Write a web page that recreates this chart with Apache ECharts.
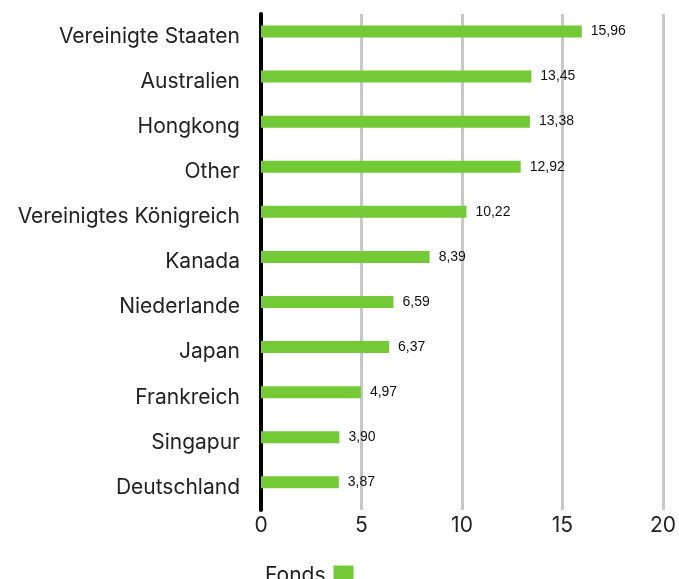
<!DOCTYPE html>
<html>
<head>
<meta charset="utf-8">
<script src="https://cdn.jsdelivr.net/npm/echarts@6/dist/echarts.min.js"></script>
<style>
  html, body { margin: 0; padding: 0; background: #fff; }
  #chart { width: 679px; height: 579px; }
</style>
</head>
<body>
<div id="chart"></div>
<script>
// Country allocation of the fund, in percent
const countries = [
  'Vereinigte Staaten', 'Australien', 'Hongkong', 'Other',
  'Vereinigtes Königreich', 'Kanada', 'Niederlande', 'Japan',
  'Frankreich', 'Singapur', 'Deutschland'
];
const fondsValues = [15.96, 13.45, 13.38, 12.92, 10.22, 8.39, 6.59, 6.37, 4.97, 3.90, 3.87];
const seriesName = 'Fonds';
const xTicks = { min: 0, max: 20, interval: 5 };

const chart = echarts.init(document.getElementById('chart'));
chart.setOption({
  animation: false,
  grid: { left: 261, right: 14, top: 14, bottom: 69, containLabel: false },
  legend: {
    data: [seriesName],
    left: 260,
    top: 560,
    align: 'right',
    itemWidth: 20,
    itemHeight: 20,
    icon: 'rect',
    textStyle: {
      fontFamily: 'Inter', fontSize: 21, color: '#222',
      verticalAlign: 'top', lineHeight: 12, padding: [0, 3, 0, 0]
    }
  },
  xAxis: {
    type: 'value',
    min: xTicks.min,
    max: xTicks.max,
    interval: xTicks.interval,
    axisLine: { show: false },
    axisTick: { show: false },
    axisLabel: { fontFamily: 'Inter', fontSize: 21, color: '#222', margin: 5 },
    splitLine: { lineStyle: { color: '#c8c8c8', width: 3 } }
  },
  yAxis: {
    type: 'category',
    data: countries,
    inverse: true,
    axisLine: { show: true, lineStyle: { color: '#000', width: 4 } },
    axisTick: { show: false },
    axisLabel: { fontFamily: 'Inter', fontSize: 21, color: '#222', margin: 21, padding: [3, 0, 0, 0] }
  },
  series: [
    {
      name: seriesName,
      type: 'bar',
      data: fondsValues,
      barWidth: 12,
      barGap: '-15%',
      itemStyle: { color: '#74c936' },
      label: {
        show: true,
        position: 'right',
        distance: 9,
        fontFamily: 'Liberation Sans',
        fontSize: 14,
        color: '#111',
        formatter: p => p.value.toFixed(2).replace('.', ',')
      }
    },
    {
      name: 'spacer',
      type: 'bar',
      data: countries.map(() => null),
      barWidth: 12,
      silent: true
    }
  ]
});
</script>
</body>
</html>
